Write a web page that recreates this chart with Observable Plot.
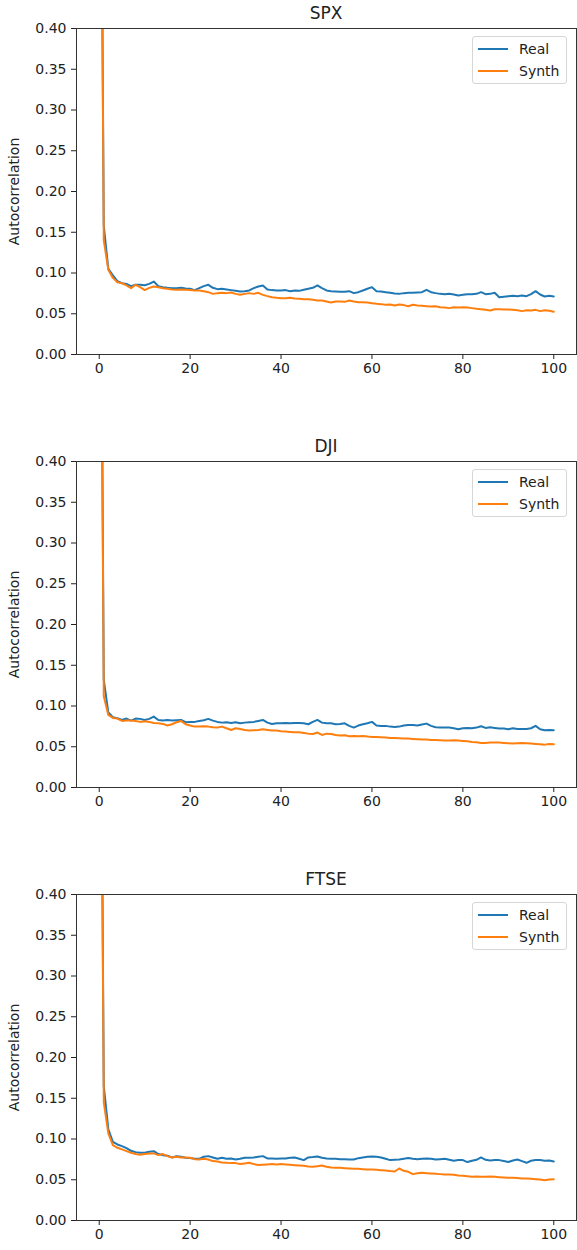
<!DOCTYPE html>
<html>
<head>
<meta charset="utf-8">
<script src="https://cdn.jsdelivr.net/npm/d3@7"></script>
<script src="https://cdn.jsdelivr.net/npm/@observablehq/plot@0.6"></script>
<style>
  html, body { margin: 0; padding: 0; background: #fff; }
  body { width: 577px; font-family: "DejaVu Sans", sans-serif; color: #222; }
  .panel { position: relative; width: 577px; overflow: hidden; }
  .title { height: 24px; line-height: 26px; text-align: center; font-size: 17px; padding-left: 75px; box-sizing: border-box; }
  .panel svg { display: block; }
  .legend { position: absolute; left: 472px; top: 36px; width: 95px; height: 48px; border: 1px solid #d6d6d6; border-radius: 3px; background: rgba(255,255,255,0.85); box-sizing: border-box; font-size: 14px; }
  .legend .row { position: absolute; left: 0; height: 20px; width: 100%; }
  .legend .sw { position: absolute; left: 5px; top: 9px; width: 30px; height: 2px; }
  .legend .lb { position: absolute; left: 46px; top: 0; line-height: 20px; }
</style>
</head>
<body>
<div id="root"></div>
<script>
// ---- data ----
const lags = [
  0, 1, 2, 3, 4, 5, 6, 7, 8, 9,
  10, 11, 12, 13, 14, 15, 16, 17, 18, 19,
  20, 21, 22, 23, 24, 25, 26, 27, 28, 29,
  30, 31, 32, 33, 34, 35, 36, 37, 38, 39,
  40, 41, 42, 43, 44, 45, 46, 47, 48, 49,
  50, 51, 52, 53, 54, 55, 56, 57, 58, 59,
  60, 61, 62, 63, 64, 65, 66, 67, 68, 69,
  70, 71, 72, 73, 74, 75, 76, 77, 78, 79,
  80, 81, 82, 83, 84, 85, 86, 87, 88, 89,
  90, 91, 92, 93, 94, 95, 96, 97, 98, 99,
  100
];
const seriesNames = ["Real", "Synth"];
const panelTitles = ["SPX", "DJI", "FTSE"];
const xTicks = [0, 20, 40, 60, 80, 100];
const yTicks = [0, 0.05, 0.10, 0.15, 0.20, 0.25, 0.30, 0.35, 0.40];

const spxReal = [
  1.0, 0.158, 0.105, 0.097, 0.090, 0.0875, 0.0865, 0.0839, 0.0855, 0.0855,
  0.0850, 0.0867, 0.0895, 0.0839, 0.0826, 0.0818, 0.0814, 0.0814, 0.0818, 0.0810,
  0.0806, 0.0790, 0.0814, 0.0839, 0.0855, 0.0818, 0.0802, 0.0806, 0.0798, 0.0790,
  0.0781, 0.0773, 0.0777, 0.0786, 0.0814, 0.0835, 0.0847, 0.0798, 0.0790, 0.0786,
  0.0786, 0.0790, 0.0777, 0.0786, 0.0781, 0.0794, 0.0806, 0.0818, 0.0847, 0.0814,
  0.0786, 0.0777, 0.0773, 0.0769, 0.0769, 0.0777, 0.0753, 0.0765, 0.0786, 0.0806,
  0.0826, 0.0777, 0.0773, 0.0765, 0.0757, 0.0748, 0.0744, 0.0753, 0.0757, 0.0757,
  0.0761, 0.0765, 0.0794, 0.0765, 0.0753, 0.0744, 0.0740, 0.0744, 0.0736, 0.0724,
  0.0732, 0.0740, 0.0740, 0.0744, 0.0765, 0.0740, 0.0744, 0.0757, 0.0703, 0.0710,
  0.0716, 0.0720, 0.0716, 0.0724, 0.0716, 0.0740, 0.0777, 0.0736, 0.0712, 0.0720,
  0.0712
];
const spxSynth = [
  1.0, 0.140, 0.104, 0.094, 0.0887, 0.0875, 0.0847, 0.0814, 0.0855, 0.0826,
  0.0790, 0.0818, 0.0835, 0.0826, 0.0814, 0.0806, 0.0798, 0.0794, 0.0798, 0.0794,
  0.0790, 0.0786, 0.0786, 0.0777, 0.0765, 0.0744, 0.0753, 0.0757, 0.0753, 0.0761,
  0.0744, 0.0732, 0.0744, 0.0753, 0.0744, 0.0757, 0.0732, 0.0716, 0.0703, 0.0695,
  0.0691, 0.0691, 0.0695, 0.0687, 0.0683, 0.0679, 0.0679, 0.0671, 0.0663, 0.0663,
  0.0650, 0.0638, 0.0650, 0.0650, 0.0646, 0.0663, 0.0650, 0.0642, 0.0642, 0.0638,
  0.0630, 0.0622, 0.0618, 0.0610, 0.0614, 0.0601, 0.0614, 0.0606, 0.0593, 0.0610,
  0.0601, 0.0597, 0.0593, 0.0589, 0.0593, 0.0581, 0.0577, 0.0569, 0.0581, 0.0577,
  0.0581, 0.0577, 0.0569, 0.0560, 0.0556, 0.0548, 0.0540, 0.0556, 0.0556, 0.0552,
  0.0552, 0.0548, 0.0544, 0.0532, 0.0544, 0.0540, 0.0548, 0.0532, 0.0544, 0.0536,
  0.0524
];
const djiReal = [
  1.0, 0.132, 0.092, 0.0862, 0.0850, 0.0829, 0.0846, 0.0821, 0.0846, 0.0842,
  0.0829, 0.0842, 0.0870, 0.0829, 0.0821, 0.0829, 0.0821, 0.0825, 0.0829, 0.0801,
  0.0805, 0.0805, 0.0817, 0.0825, 0.0842, 0.0821, 0.0805, 0.0796, 0.0801, 0.0792,
  0.0801, 0.0788, 0.0796, 0.0801, 0.0805, 0.0817, 0.0829, 0.0796, 0.0780, 0.0788,
  0.0788, 0.0792, 0.0788, 0.0792, 0.0792, 0.0788, 0.0776, 0.0805, 0.0829, 0.0796,
  0.0788, 0.0788, 0.0776, 0.0780, 0.0788, 0.0756, 0.0735, 0.0760, 0.0776, 0.0788,
  0.0805, 0.0760, 0.0756, 0.0756, 0.0747, 0.0743, 0.0747, 0.0760, 0.0768, 0.0768,
  0.0760, 0.0772, 0.0784, 0.0756, 0.0739, 0.0735, 0.0735, 0.0735, 0.0727, 0.0715,
  0.0727, 0.0731, 0.0727, 0.0735, 0.0751, 0.0731, 0.0739, 0.0731, 0.0723, 0.0723,
  0.0715, 0.0727, 0.0719, 0.0719, 0.0719, 0.0727, 0.0756, 0.0715, 0.0702, 0.0706,
  0.0702
];
const djiSynth = [
  1.0, 0.112, 0.089, 0.0854, 0.0846, 0.0817, 0.0821, 0.0821, 0.0817, 0.0805,
  0.0813, 0.0805, 0.0792, 0.0788, 0.0780, 0.0760, 0.0776, 0.0801, 0.0817, 0.0776,
  0.0760, 0.0747, 0.0747, 0.0751, 0.0747, 0.0739, 0.0735, 0.0747, 0.0727, 0.0706,
  0.0727, 0.0719, 0.0706, 0.0698, 0.0702, 0.0706, 0.0715, 0.0706, 0.0698, 0.0698,
  0.0690, 0.0686, 0.0682, 0.0678, 0.0678, 0.0669, 0.0661, 0.0657, 0.0674, 0.0645,
  0.0661, 0.0657, 0.0645, 0.0637, 0.0641, 0.0629, 0.0633, 0.0629, 0.0633, 0.0625,
  0.0620, 0.0620, 0.0616, 0.0612, 0.0608, 0.0608, 0.0604, 0.0600, 0.0600, 0.0596,
  0.0592, 0.0588, 0.0588, 0.0584, 0.0584, 0.0580, 0.0576, 0.0576, 0.0580, 0.0576,
  0.0571, 0.0567, 0.0559, 0.0555, 0.0547, 0.0547, 0.0551, 0.0551, 0.0551, 0.0547,
  0.0543, 0.0539, 0.0543, 0.0547, 0.0543, 0.0539, 0.0535, 0.0530, 0.0526, 0.0535,
  0.0530
];
const ftseReal = [
  1.0, 0.165, 0.112, 0.0966, 0.0933, 0.0913, 0.0888, 0.0855, 0.0839, 0.0831,
  0.0831, 0.0843, 0.0851, 0.0815, 0.0802, 0.0794, 0.0774, 0.0790, 0.0782, 0.0770,
  0.0766, 0.0757, 0.0757, 0.0782, 0.0790, 0.0774, 0.0757, 0.0770, 0.0757, 0.0761,
  0.0749, 0.0757, 0.0770, 0.0770, 0.0774, 0.0782, 0.0790, 0.0761, 0.0761, 0.0757,
  0.0761, 0.0761, 0.0770, 0.0774, 0.0757, 0.0741, 0.0774, 0.0778, 0.0786, 0.0770,
  0.0761, 0.0757, 0.0757, 0.0753, 0.0753, 0.0749, 0.0749, 0.0765, 0.0774, 0.0782,
  0.0786, 0.0782, 0.0774, 0.0757, 0.0741, 0.0745, 0.0749, 0.0757, 0.0766, 0.0757,
  0.0753, 0.0757, 0.0761, 0.0757, 0.0749, 0.0753, 0.0757, 0.0745, 0.0733, 0.0741,
  0.0741, 0.0717, 0.0733, 0.0745, 0.0774, 0.0745, 0.0737, 0.0741, 0.0741, 0.0729,
  0.0717, 0.0737, 0.0749, 0.0729, 0.0708, 0.0733, 0.0741, 0.0741, 0.0733, 0.0737,
  0.0724
];
const ftseSynth = [
  1.0, 0.145, 0.107, 0.0925, 0.0892, 0.0872, 0.0851, 0.0831, 0.0815, 0.0806,
  0.0815, 0.0823, 0.0823, 0.0802, 0.0815, 0.0790, 0.0774, 0.0782, 0.0774, 0.0774,
  0.0770, 0.0753, 0.0749, 0.0757, 0.0749, 0.0729, 0.0724, 0.0712, 0.0708, 0.0704,
  0.0704, 0.0692, 0.0700, 0.0708, 0.0692, 0.0680, 0.0684, 0.0688, 0.0692, 0.0688,
  0.0692, 0.0688, 0.0684, 0.0679, 0.0675, 0.0671, 0.0663, 0.0659, 0.0667, 0.0675,
  0.0659, 0.0651, 0.0647, 0.0647, 0.0642, 0.0638, 0.0634, 0.0634, 0.0630, 0.0626,
  0.0626, 0.0622, 0.0618, 0.0614, 0.0606, 0.0601, 0.0638, 0.0610, 0.0597, 0.0569,
  0.0581, 0.0585, 0.0581, 0.0577, 0.0573, 0.0569, 0.0565, 0.0565, 0.0561, 0.0553,
  0.0548, 0.0544, 0.0536, 0.0540, 0.0536, 0.0536, 0.0540, 0.0536, 0.0532, 0.0528,
  0.0524, 0.0524, 0.0520, 0.0516, 0.0516, 0.0512, 0.0507, 0.0503, 0.0495, 0.0503,
  0.0507
];

const colors = ["#1f77b4", "#ff7f0e"];
const panels = [
  { title: panelTitles[0], real: spxReal, synth: spxSynth },
  { title: panelTitles[1], real: djiReal, synth: djiSynth },
  { title: panelTitles[2], real: ftseReal, synth: ftseSynth }
];

const root = document.getElementById("root");
panels.forEach((p, k) => {
  const last = k === panels.length - 1;
  const panelH = last ? 384 : 433;
  const div = document.createElement("div");
  div.className = "panel";
  div.style.height = panelH + "px";

  const t = document.createElement("div");
  t.className = "title";
  t.textContent = p.title;
  div.appendChild(t);

  const svgH = panelH - 24;
  const chart = Plot.plot({
    width: 577,
    height: svgH,
    marginTop: 4,
    marginLeft: 76,
    marginRight: 1,
    marginBottom: svgH + 24 - 354,
    style: { fontFamily: "DejaVu Sans, sans-serif", fontSize: "14px", color: "#222", background: "#fff", overflow: "visible" },
    x: { domain: [-5, 105] },
    y: { domain: [0, 0.4] },
    marks: [
      Plot.lineY(p.real, { x: (d, i) => lags[i], y: d => d, stroke: colors[0], strokeWidth: 2, clip: true }),
      Plot.lineY(p.synth, { x: (d, i) => lags[i], y: d => d, stroke: colors[1], strokeWidth: 2, clip: true }),
      Plot.frame({ stroke: "#333", strokeWidth: 1 }),
      Plot.axisX({ ticks: xTicks, tickSize: 5, tickPadding: 4, label: null, fontSize: 14 }),
      Plot.axisY({ ticks: yTicks, tickSize: 5, tickPadding: 5, tickFormat: d3.format(".2f"), label: "Autocorrelation", labelAnchor: "center", labelArrow: "none", labelOffset: 67, fontSize: 14 })
    ]
  });
  div.appendChild(chart);

  const lg = document.createElement("div");
  lg.className = "legend";
  seriesNames.forEach((name, j) => {
    const row = document.createElement("div");
    row.className = "row";
    row.style.top = (2 + j * 22) + "px";
    const sw = document.createElement("div");
    sw.className = "sw";
    sw.style.background = colors[j];
    const lb = document.createElement("div");
    lb.className = "lb";
    lb.textContent = name;
    row.appendChild(sw);
    row.appendChild(lb);
    lg.appendChild(row);
  });
  div.appendChild(lg);
  root.appendChild(div);
});
</script>
</body>
</html>
